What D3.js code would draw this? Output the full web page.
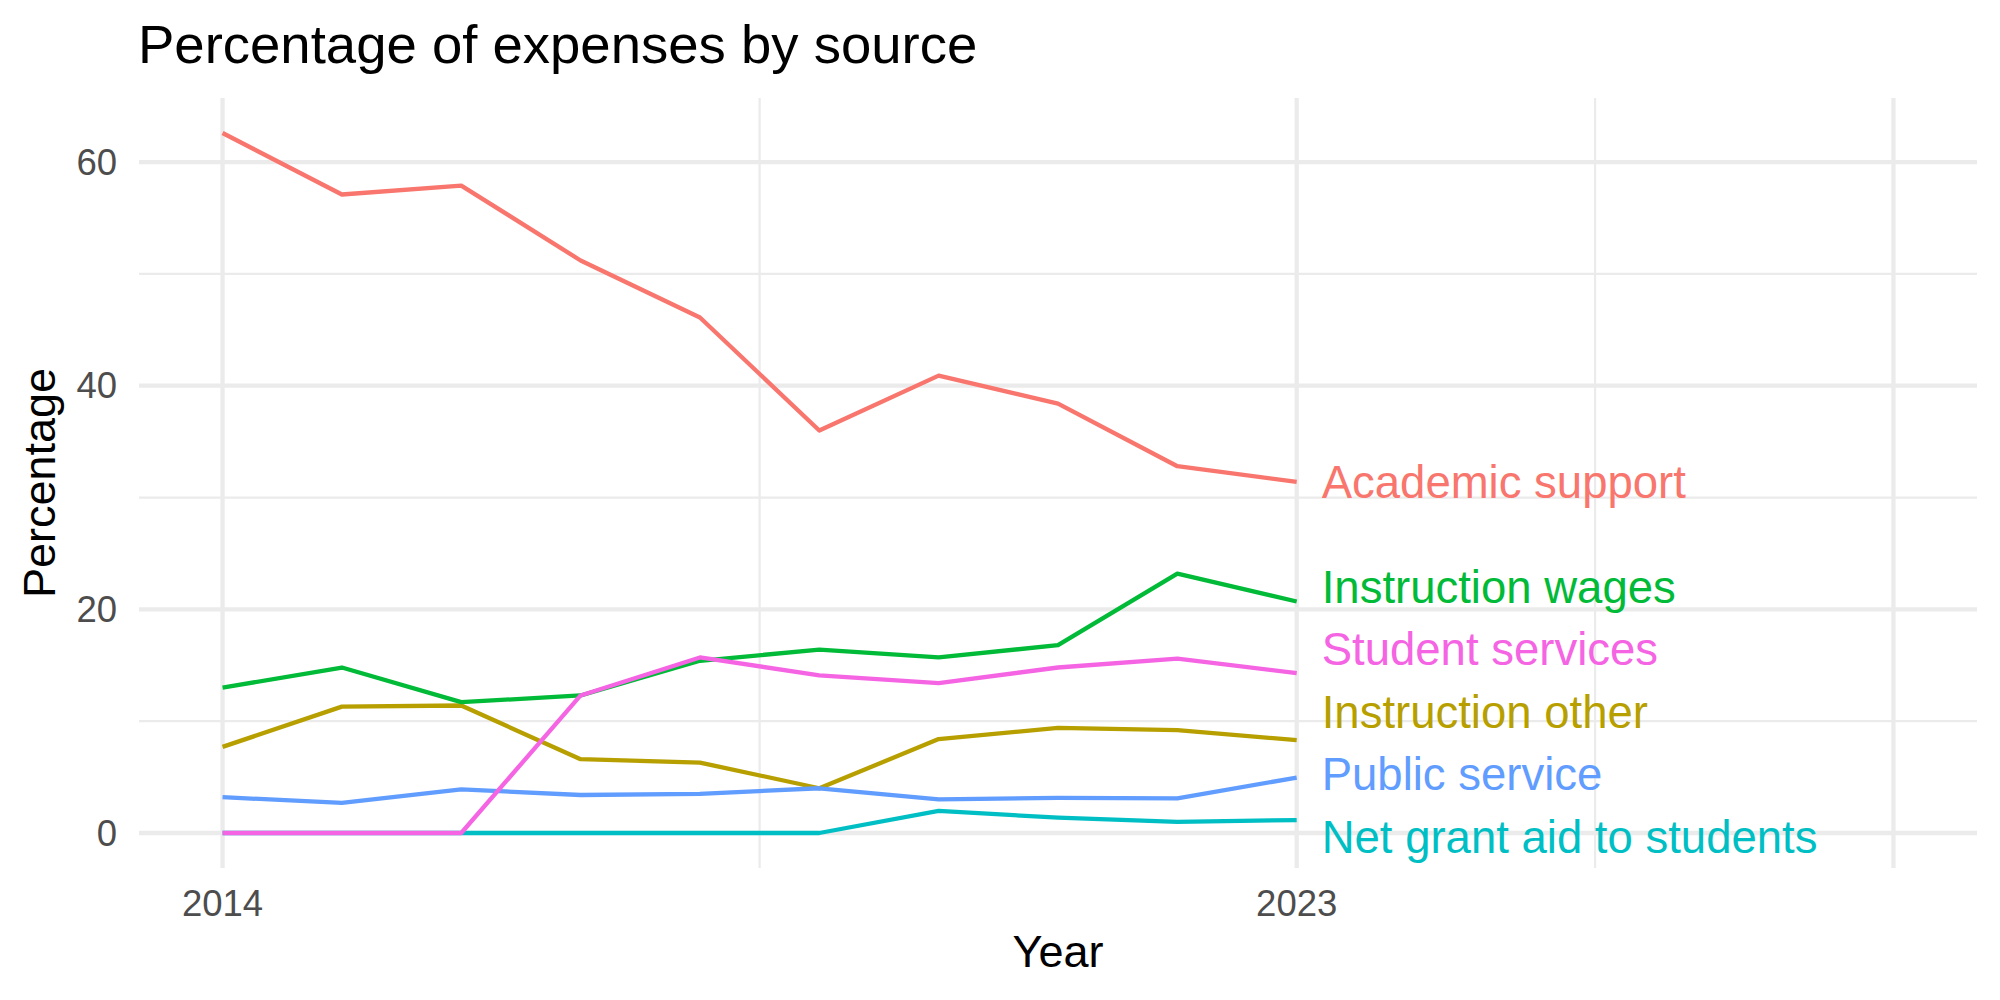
<!DOCTYPE html>
<html><head><meta charset="utf-8">
<script src="https://cdn.jsdelivr.net/npm/d3@7"></script>
<style>
body{margin:0;background:#fff}
svg{display:block}
text{font-family:"Liberation Sans",Arial,Helvetica,sans-serif}
</style>
</head><body><svg id="chart" width="2000" height="1000"></svg>
<script>
// ---------- data ----------
const years = [2014, 2015, 2016, 2017, 2018, 2019, 2020, 2021, 2022, 2023];
const seriesNames = ["Academic support", "Instruction other", "Instruction wages",
                     "Net grant aid to students", "Public service", "Student services"];
const academicSupport   = [62.6, 57.1, 57.9, 51.2, 46.1, 36.0, 40.9, 38.4, 32.8, 31.4];
const instructionOther  = [7.7, 11.3, 11.4, 6.6, 6.3, 4.0, 8.4, 9.4, 9.2, 8.3];
const instructionWages  = [13.0, 14.8, 11.7, 12.3, 15.4, 16.4, 15.7, 16.8, 23.2, 20.7];
const netGrantAid       = [0, 0, 0, 0, 0, 0, 1.97, 1.37, 1.0, 1.16];
const publicService     = [3.2, 2.7, 3.9, 3.4, 3.5, 4.0, 3.0, 3.15, 3.1, 4.95];
const studentServices   = [0, 0, 0, 12.3, 15.7, 14.1, 13.4, 14.8, 15.6, 14.3];
const seriesValues = [academicSupport, instructionOther, instructionWages,
                      netGrantAid, publicService, studentServices];
const xLimits = [2014, 2028];
const xBreaks = [2014, 2023, 2028];
const xBreakLabels = ["2014", "2023", ""];
const xMinorBreaks = [2018.5, 2025.5];
const yBreaks = [0, 20, 40, 60];
const yBreakLabels = ["0", "20", "40", "60"];
const yMinorBreaks = [10, 30, 50];
const titleText = "Percentage of expenses by source";
const xTitle = "Year";
const yTitle = "Percentage";

// ---------- layout / style ----------
const colors = ["#F8766D", "#B79F00", "#00BA38", "#00BFC4", "#619CFF", "#F564E3"];
const panel = {left: 139, right: 1977, top: 98, bottom: 868};
const gridColor = "#EBEBEB";

const svg = d3.select("#chart");
svg.append("rect").attr("width", 2000).attr("height", 1000).attr("fill", "#fff");

const xSpan = xLimits[1] - xLimits[0];
const x = d3.scaleLinear()
  .domain([xLimits[0] - 0.05 * xSpan, xLimits[1] + 0.05 * xSpan])
  .range([panel.left, panel.right]);
const allVals = seriesValues.flat();
const yMin = d3.min(allVals), yMax = d3.max(allVals);
const ySpan = yMax - yMin;
const y = d3.scaleLinear()
  .domain([yMin - 0.05 * ySpan, yMax + 0.05 * ySpan])
  .range([panel.bottom, panel.top]);

// ---------- grid ----------
const g = svg.append("g");
g.selectAll("line.ymin").data(yMinorBreaks).join("line")
  .attr("x1", panel.left).attr("x2", panel.right)
  .attr("y1", d => y(d)).attr("y2", d => y(d))
  .attr("stroke", gridColor).attr("stroke-width", 2.2);
g.selectAll("line.xmin").data(xMinorBreaks).join("line")
  .attr("y1", panel.top).attr("y2", panel.bottom)
  .attr("x1", d => x(d)).attr("x2", d => x(d))
  .attr("stroke", gridColor).attr("stroke-width", 2.2);
g.selectAll("line.ymaj").data(yBreaks).join("line")
  .attr("x1", panel.left).attr("x2", panel.right)
  .attr("y1", d => y(d)).attr("y2", d => y(d))
  .attr("stroke", gridColor).attr("stroke-width", 4.3);
g.selectAll("line.xmaj").data(xBreaks).join("line")
  .attr("y1", panel.top).attr("y2", panel.bottom)
  .attr("x1", d => x(d)).attr("x2", d => x(d))
  .attr("stroke", gridColor).attr("stroke-width", 4.3);

// ---------- lines ----------
const line = d3.line().x((d, i) => x(years[i])).y(d => y(d));
svg.append("g").selectAll("path").data(seriesValues).join("path")
  .attr("d", d => line(d))
  .attr("fill", "none")
  .attr("stroke", (d, i) => colors[i])
  .attr("stroke-width", 4.3)
  .attr("stroke-linejoin", "round")
  .attr("stroke-linecap", "butt");

// ---------- end labels (simple vertical repel) ----------
function dodge(targets, gap, lo, hi) {
  const idx = d3.range(targets.length).sort((a, b) => targets[a] - targets[b]);
  const clusters = idx.map(i => ({items: [i], top: 0}));
  const place = c => {
    const n = c.items.length;
    let t = d3.mean(c.items.map((i, k) => targets[i] - k * gap));
    t = Math.max(lo, Math.min(hi - (n - 1) * gap, t));
    c.top = t;
  };
  clusters.forEach(place);
  let merged = true;
  while (merged) {
    merged = false;
    for (let j = 0; j < clusters.length - 1; j++) {
      const a = clusters[j], b = clusters[j + 1];
      if (a.top + a.items.length * gap > b.top + 1e-9) {
        a.items = a.items.concat(b.items);
        clusters.splice(j + 1, 1);
        place(a);
        merged = true;
        break;
      }
    }
  }
  const out = new Array(targets.length);
  clusters.forEach(c => c.items.forEach((i, k) => { out[i] = c.top + k * gap; }));
  return out;
}
const lastYear = years[years.length - 1];
const labelGap = 62.5;
const targets = seriesValues.map(v => y(v[v.length - 1]));
const labelY = dodge(targets, labelGap, panel.top + labelGap / 2, panel.bottom - labelGap / 2);
svg.append("g").selectAll("text").data(seriesNames).join("text")
  .attr("x", x(lastYear) + 25)
  .attr("y", (d, i) => labelY[i])
  .attr("dy", "0.35em")
  .attr("font-size", 45.5)
  .attr("fill", (d, i) => colors[i])
  .text(d => d);

// ---------- axes text ----------
svg.append("g").selectAll("text").data(yBreaks).join("text")
  .attr("x", 117).attr("y", d => y(d)).attr("dy", "0.35em")
  .attr("text-anchor", "end").attr("font-size", 36.5).attr("fill", "#4D4D4D")
  .text((d, i) => yBreakLabels[i]);
svg.append("g").selectAll("text").data(xBreaks).join("text")
  .attr("x", d => x(d)).attr("y", 916)
  .attr("text-anchor", "middle").attr("font-size", 36.5).attr("fill", "#4D4D4D")
  .text((d, i) => xBreakLabels[i]);

svg.append("text").attr("x", (panel.left + panel.right) / 2).attr("y", 966.5)
  .attr("text-anchor", "middle").attr("font-size", 45).attr("fill", "#000")
  .text(xTitle);
svg.append("text")
  .attr("transform", `translate(55,${(panel.top + panel.bottom) / 2}) rotate(-90)`)
  .attr("text-anchor", "middle").attr("font-size", 45).attr("fill", "#000")
  .text(yTitle);
svg.append("text").attr("x", 138).attr("y", 62.5)
  .attr("font-size", 54.5).attr("fill", "#000")
  .text(titleText);
</script>
</body></html>
